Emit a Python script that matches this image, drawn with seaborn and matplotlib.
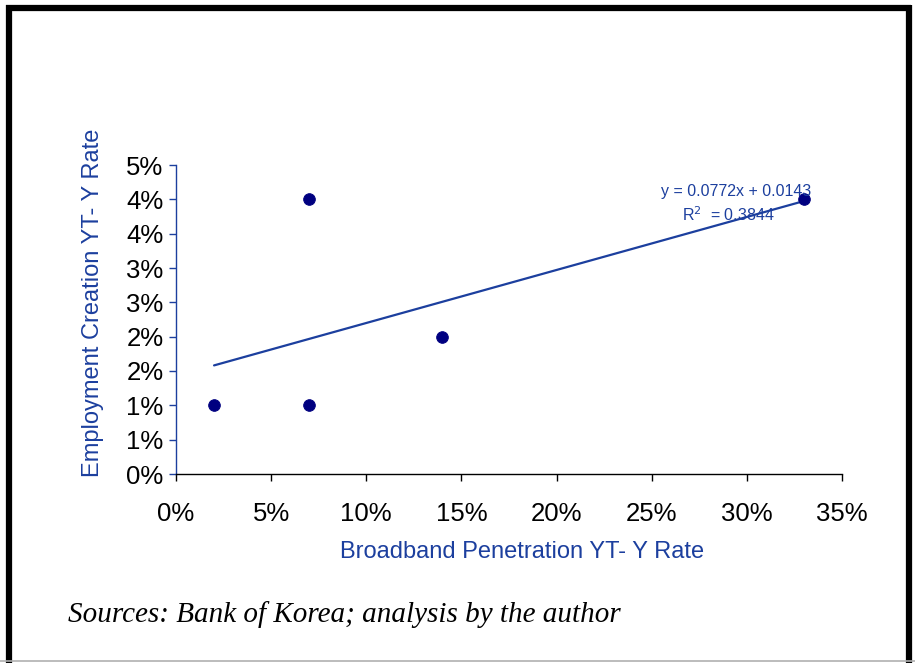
import numpy as np
import pandas as pd
import matplotlib.pyplot as plt
import matplotlib
import seaborn as sns

# data
broadband = [0.02, 0.07, 0.07, 0.14, 0.33]
employment = [0.01, 0.04, 0.01, 0.02, 0.04]
x_ticks = [0, 0.05, 0.10, 0.15, 0.20, 0.25, 0.30, 0.35]
y_ticks = [0, 0.005, 0.01, 0.015, 0.02, 0.025, 0.03, 0.035, 0.04, 0.045]

sns.set_style("white")
plt.rcParams['font.family'] = ['Liberation Sans', 'DejaVu Sans']

blue = "#1c3f9e"
navy = "#000080"

df = pd.DataFrame({"x": broadband, "y": employment})
slope, icpt = np.polyfit(df["x"], df["y"], 1)
r2 = np.corrcoef(df["x"], df["y"])[0, 1] ** 2
trend = pd.DataFrame({"x": [min(broadband), max(broadband)]})
trend["y"] = slope * trend["x"] + icpt

fig = plt.figure(figsize=(9.15, 6.63), dpi=100)
ax = fig.add_axes([176/915, 189/663, 666/915, 309/663])

sns.lineplot(data=trend, x="x", y="y", color=blue, linewidth=1.6, ax=ax)
sns.scatterplot(data=df, x="x", y="y", color=navy, s=70, edgecolor=navy, zorder=3, ax=ax)

pct = matplotlib.ticker.FuncFormatter(lambda v, p: "%d%%" % int(np.floor(v*100 + 0.5 + 1e-9)))
ax.set_xlim(0, 0.35)
ax.set_ylim(0, 0.045)
ax.set_xticks(x_ticks)
ax.set_yticks(y_ticks)
ax.xaxis.set_major_formatter(pct)
ax.yaxis.set_major_formatter(pct)
ax.tick_params(axis="both", direction="out", length=5, width=1, labelsize=18.5, colors="black", pad=4, left=True, bottom=True)
ax.tick_params(axis="y", color=blue)
ax.tick_params(axis="x", pad=15)

for s in ["top", "right"]:
    ax.spines[s].set_visible(False)
ax.spines["left"].set_color(blue)
ax.spines["bottom"].set_color("black")
ax.spines["left"].set_linewidth(1)
ax.spines["bottom"].set_linewidth(1)

ax.set_xlabel("Broadband Penetration YT- Y Rate", color=blue, fontsize=17)
ax.set_ylabel("Employment Creation YT- Y Rate", color=blue, fontsize=17)
ax.xaxis.label.set_va("center")
ax.yaxis.label.set_va("center")
ax.xaxis.set_label_coords(0.5195, -0.252)
ax.yaxis.set_label_coords(-0.1246, 0.553)

ax.text(0.2943, 0.0412, "y = %.4fx + %.4f" % (slope, icpt), color=blue, fontsize=11.5, ha="center", va="center")
ax.text(0.2900, 0.0377, "R$^{2}$  = %.4f" % r2, color=blue, fontsize=11.5, ha="center", va="center")

# caption
fig.text(68/915, 1 - 615/663, "Sources: Bank of Korea; analysis by the author", family="Liberation Serif",
         style="italic", fontsize=21, ha="left", va="center", color="black")

# frame round the figure
kw = dict(transform=fig.transFigure, color="black", lw=4.5, solid_capstyle="butt")
fig.add_artist(plt.Line2D([8.5/915, 8.5/915], [0, 1 - 5/663], **kw))
fig.add_artist(plt.Line2D([6/915, 911/915], [1 - 8/663, 1 - 8/663], **kw))
fig.add_artist(plt.Line2D([908.5/915, 908.5/915], [0, 1 - 5/663], **kw))
fig.add_artist(plt.Line2D([0, 1], [2/663, 2/663], transform=fig.transFigure, color="#b0b0b0", lw=1.2))

plt.savefig("out.png", dpi=100)
